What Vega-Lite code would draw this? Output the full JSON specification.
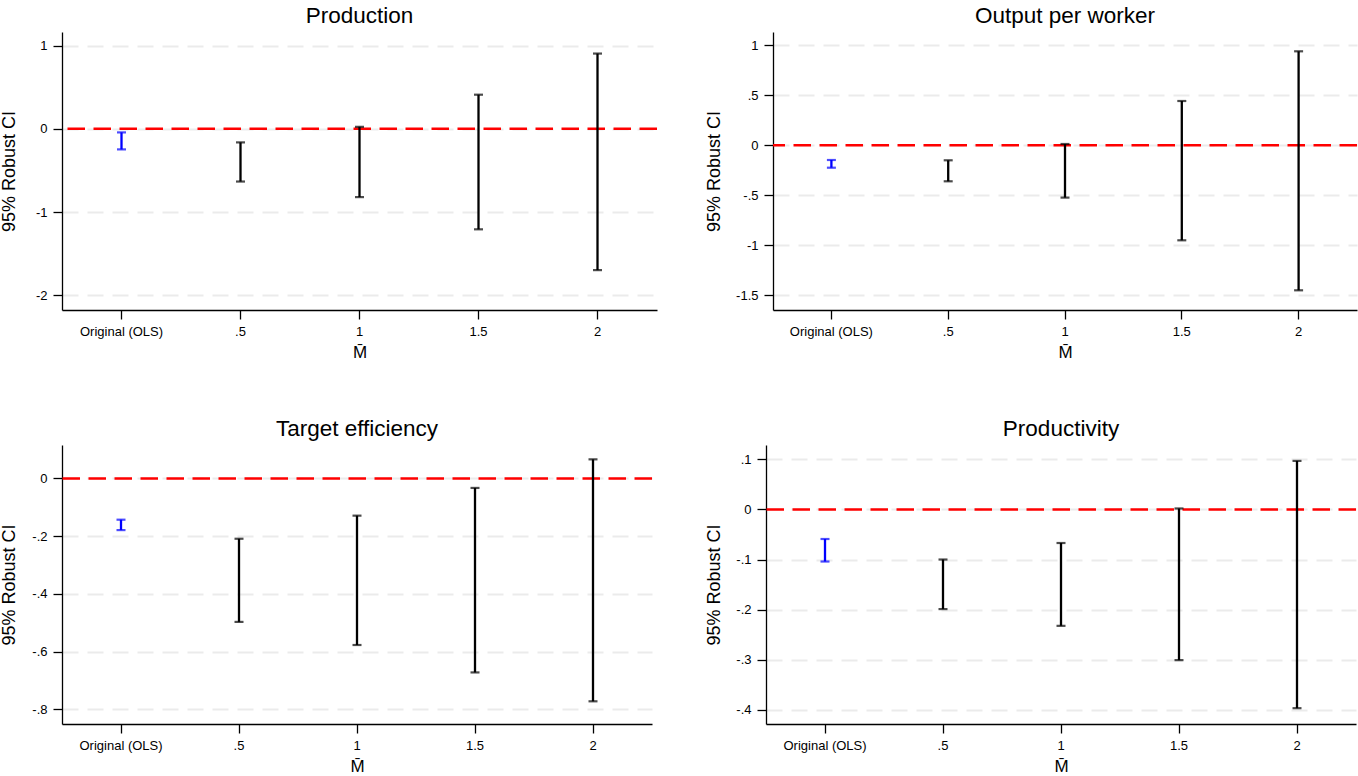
{
"$schema": "https://vega.github.io/schema/vega-lite/v6.json",
"background": "white",
"padding": {"left": 0, "top": 4, "right": 0, "bottom": 0},
"config": {
  "view": {"stroke": null},
  "font": "Liberation Sans",
  "axis": {"domainColor": "#000", "domainWidth": 1.3, "tickColor": "#000", "tickWidth": 1.3, "labelColor": "#000", "titleColor": "#000", "labelFont": "Liberation Sans", "titleFont": "Liberation Sans", "titleFontWeight": "normal"},
  "axisY": {"titleFontSize": 18, "labelFontSize": 13, "labelPadding": 6, "tickSize": 9, "labelExpr": "(datum.value < 0 ? '-' : '') + replace(format(abs(datum.value), '~g'), '0.', '.')", "grid": true, "gridColor": "#ebebeb", "gridDash": [16, 9], "gridWidth": 2},
  "axisX": {"titleFontSize": 17, "titlePadding": 6, "labelFontSize": 13, "labelPadding": 6, "tickSize": 9, "labelAngle": 0, "grid": false},
  "title": {"font": "Liberation Sans", "fontSize": 22.5, "fontWeight": "normal", "color": "#000", "offset": 5, "frame": "group", "anchor": "middle"}
},
"datasets": {
  "ci": [
    {"panel": "Production", "cat": "Original (OLS)", "lo": -0.247, "hi": -0.043},
    {"panel": "Production", "cat": ".5", "lo": -0.633, "hi": -0.163},
    {"panel": "Production", "cat": "1", "lo": -0.82, "hi": 0.024},
    {"panel": "Production", "cat": "1.5", "lo": -1.207, "hi": 0.41},
    {"panel": "Production", "cat": "2", "lo": -1.697, "hi": 0.904},
    {"panel": "Output per worker", "cat": "Original (OLS)", "lo": -0.224, "hi": -0.147},
    {"panel": "Output per worker", "cat": ".5", "lo": -0.36, "hi": -0.15},
    {"panel": "Output per worker", "cat": "1", "lo": -0.523, "hi": 0.013},
    {"panel": "Output per worker", "cat": "1.5", "lo": -0.95, "hi": 0.443},
    {"panel": "Output per worker", "cat": "2", "lo": -1.45, "hi": 0.94},
    {"panel": "Target efficiency", "cat": "Original (OLS)", "lo": -0.179, "hi": -0.143},
    {"panel": "Target efficiency", "cat": ".5", "lo": -0.497, "hi": -0.209},
    {"panel": "Target efficiency", "cat": "1", "lo": -0.577, "hi": -0.129},
    {"panel": "Target efficiency", "cat": "1.5", "lo": -0.672, "hi": -0.033},
    {"panel": "Target efficiency", "cat": "2", "lo": -0.772, "hi": 0.066},
    {"panel": "Productivity", "cat": "Original (OLS)", "lo": -0.104, "hi": -0.059},
    {"panel": "Productivity", "cat": ".5", "lo": -0.199, "hi": -0.1},
    {"panel": "Productivity", "cat": "1", "lo": -0.2325, "hi": -0.067},
    {"panel": "Productivity", "cat": "1.5", "lo": -0.301, "hi": 0.002},
    {"panel": "Productivity", "cat": "2", "lo": -0.397, "hi": 0.097}
  ]
},
"spacing": 57,
"vconcat": [
 {"spacing": 46, "hconcat": [
  {"width": 595, "height": 278, "title": "Production",
   "layer": [
    {"data": {"values": [{}]}, "mark": {"type": "rule", "color": "#ff0000", "strokeWidth": 2.5, "strokeDash": [17.5, 8.5]},
     "encoding": {"y": {"datum": 0, "type": "quantitative", "title": "95% Robust CI", "scale": {"domain": [-2.176, 1.163], "nice": false, "zero": false}, "axis": {"values": [-2, -1, 0, 1], "titlePadding": 16.6}}}},
    {"data": {"name": "ci"}, "transform": [{"filter": "datum.panel == 'Production'"}],
     "encoding": {
       "x": {"field": "cat", "type": "nominal", "title": "M̄", "sort": ["Original (OLS)", ".5", "1", "1.5", "2"], "scale": {"paddingInner": 0, "paddingOuter": 0}},
       "color": {"condition": {"test": "datum.cat == 'Original (OLS)'", "value": "#0000ff"}, "value": "#000000"}
     },
     "layer": [
      {"mark": {"type": "rule", "strokeWidth": 2.3}, "encoding": {"y": {"field": "lo", "type": "quantitative", "title": "95% Robust CI", "scale": {"domain": [-2.176, 1.163], "nice": false, "zero": false}, "axis": {"values": [-2, -1, 0, 1], "titlePadding": 16.6}}, "y2": {"field": "hi"}}},
      {"mark": {"type": "tick", "orient": "horizontal", "size": 9, "thickness": 2.2}, "encoding": {"y": {"field": "lo", "type": "quantitative", "title": "95% Robust CI", "scale": {"domain": [-2.176, 1.163], "nice": false, "zero": false}, "axis": {"values": [-2, -1, 0, 1], "titlePadding": 16.6}}}},
      {"mark": {"type": "tick", "orient": "horizontal", "size": 9, "thickness": 2.2}, "encoding": {"y": {"field": "hi", "type": "quantitative", "title": "95% Robust CI", "scale": {"domain": [-2.176, 1.163], "nice": false, "zero": false}, "axis": {"values": [-2, -1, 0, 1], "titlePadding": 16.6}}}}
     ]}
   ]},
  {"width": 584, "height": 278, "title": "Output per worker",
   "layer": [
    {"data": {"values": [{}]}, "mark": {"type": "rule", "color": "#ff0000", "strokeWidth": 2.5, "strokeDash": [17.5, 8.5]},
     "encoding": {"y": {"datum": 0, "type": "quantitative", "title": "95% Robust CI", "scale": {"domain": [-1.647, 1.133], "nice": false, "zero": false}, "axis": {"values": [-1.5, -1, -0.5, 0, 0.5, 1], "titlePadding": 12}}}},
    {"data": {"name": "ci"}, "transform": [{"filter": "datum.panel == 'Output per worker'"}],
     "encoding": {
       "x": {"field": "cat", "type": "nominal", "title": "M̄", "sort": ["Original (OLS)", ".5", "1", "1.5", "2"], "scale": {"paddingInner": 0, "paddingOuter": 0}},
       "color": {"condition": {"test": "datum.cat == 'Original (OLS)'", "value": "#0000ff"}, "value": "#000000"}
     },
     "layer": [
      {"mark": {"type": "rule", "strokeWidth": 2.3}, "encoding": {"y": {"field": "lo", "type": "quantitative", "title": "95% Robust CI", "scale": {"domain": [-1.647, 1.133], "nice": false, "zero": false}, "axis": {"values": [-1.5, -1, -0.5, 0, 0.5, 1], "titlePadding": 12}}, "y2": {"field": "hi"}}},
      {"mark": {"type": "tick", "orient": "horizontal", "size": 9, "thickness": 2.2}, "encoding": {"y": {"field": "lo", "type": "quantitative", "title": "95% Robust CI", "scale": {"domain": [-1.647, 1.133], "nice": false, "zero": false}, "axis": {"values": [-1.5, -1, -0.5, 0, 0.5, 1], "titlePadding": 12}}}},
      {"mark": {"type": "tick", "orient": "horizontal", "size": 9, "thickness": 2.2}, "encoding": {"y": {"field": "hi", "type": "quantitative", "title": "95% Robust CI", "scale": {"domain": [-1.647, 1.133], "nice": false, "zero": false}, "axis": {"values": [-1.5, -1, -0.5, 0, 0.5, 1], "titlePadding": 12}}}}
     ]}
   ]}
 ]},
 {"spacing": 51, "hconcat": [
  {"width": 590, "height": 279, "title": "Target efficiency",
   "layer": [
    {"data": {"values": [{}]}, "mark": {"type": "rule", "color": "#ff0000", "strokeWidth": 2.5, "strokeDash": [17.5, 8.5]},
     "encoding": {"y": {"datum": 0, "type": "quantitative", "title": "95% Robust CI", "scale": {"domain": [-0.8506, 0.1157], "nice": false, "zero": false}, "axis": {"values": [-0.8, -0.6, -0.4, -0.2, 0], "titlePadding": 13}}}},
    {"data": {"name": "ci"}, "transform": [{"filter": "datum.panel == 'Target efficiency'"}],
     "encoding": {
       "x": {"field": "cat", "type": "nominal", "title": "M̄", "sort": ["Original (OLS)", ".5", "1", "1.5", "2"], "scale": {"paddingInner": 0, "paddingOuter": 0}},
       "color": {"condition": {"test": "datum.cat == 'Original (OLS)'", "value": "#0000ff"}, "value": "#000000"}
     },
     "layer": [
      {"mark": {"type": "rule", "strokeWidth": 2.3}, "encoding": {"y": {"field": "lo", "type": "quantitative", "title": "95% Robust CI", "scale": {"domain": [-0.8506, 0.1157], "nice": false, "zero": false}, "axis": {"values": [-0.8, -0.6, -0.4, -0.2, 0], "titlePadding": 13}}, "y2": {"field": "hi"}}},
      {"mark": {"type": "tick", "orient": "horizontal", "size": 9, "thickness": 2.2}, "encoding": {"y": {"field": "lo", "type": "quantitative", "title": "95% Robust CI", "scale": {"domain": [-0.8506, 0.1157], "nice": false, "zero": false}, "axis": {"values": [-0.8, -0.6, -0.4, -0.2, 0], "titlePadding": 13}}}},
      {"mark": {"type": "tick", "orient": "horizontal", "size": 9, "thickness": 2.2}, "encoding": {"y": {"field": "hi", "type": "quantitative", "title": "95% Robust CI", "scale": {"domain": [-0.8506, 0.1157], "nice": false, "zero": false}, "axis": {"values": [-0.8, -0.6, -0.4, -0.2, 0], "titlePadding": 13}}}}
     ]}
   ]},
  {"width": 590, "height": 279, "title": "Productivity",
   "layer": [
    {"data": {"values": [{}]}, "mark": {"type": "rule", "color": "#ff0000", "strokeWidth": 2.5, "strokeDash": [17.5, 8.5]},
     "encoding": {"y": {"datum": 0, "type": "quantitative", "title": "95% Robust CI", "scale": {"domain": [-0.4286, 0.1288], "nice": false, "zero": false}, "axis": {"values": [-0.4, -0.3, -0.2, -0.1, 0, 0.1], "titlePadding": 12}}}},
    {"data": {"name": "ci"}, "transform": [{"filter": "datum.panel == 'Productivity'"}],
     "encoding": {
       "x": {"field": "cat", "type": "nominal", "title": "M̄", "sort": ["Original (OLS)", ".5", "1", "1.5", "2"], "scale": {"paddingInner": 0, "paddingOuter": 0}},
       "color": {"condition": {"test": "datum.cat == 'Original (OLS)'", "value": "#0000ff"}, "value": "#000000"}
     },
     "layer": [
      {"mark": {"type": "rule", "strokeWidth": 2.3}, "encoding": {"y": {"field": "lo", "type": "quantitative", "title": "95% Robust CI", "scale": {"domain": [-0.4286, 0.1288], "nice": false, "zero": false}, "axis": {"values": [-0.4, -0.3, -0.2, -0.1, 0, 0.1], "titlePadding": 12}}, "y2": {"field": "hi"}}},
      {"mark": {"type": "tick", "orient": "horizontal", "size": 9, "thickness": 2.2}, "encoding": {"y": {"field": "lo", "type": "quantitative", "title": "95% Robust CI", "scale": {"domain": [-0.4286, 0.1288], "nice": false, "zero": false}, "axis": {"values": [-0.4, -0.3, -0.2, -0.1, 0, 0.1], "titlePadding": 12}}}},
      {"mark": {"type": "tick", "orient": "horizontal", "size": 9, "thickness": 2.2}, "encoding": {"y": {"field": "hi", "type": "quantitative", "title": "95% Robust CI", "scale": {"domain": [-0.4286, 0.1288], "nice": false, "zero": false}, "axis": {"values": [-0.4, -0.3, -0.2, -0.1, 0, 0.1], "titlePadding": 12}}}}
     ]}
   ]}
 ]}
]
}
